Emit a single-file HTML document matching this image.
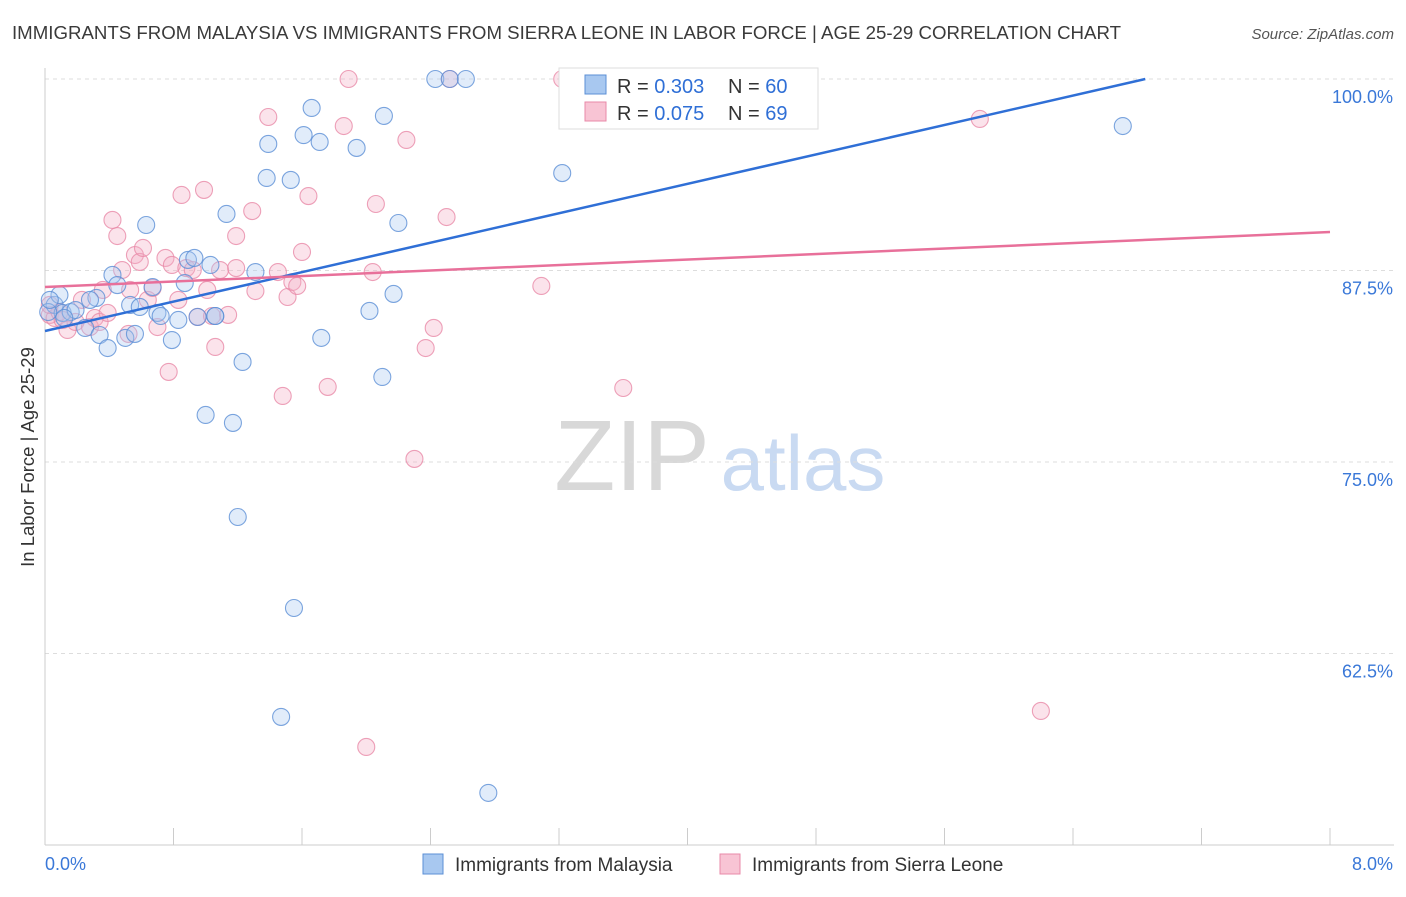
<!DOCTYPE html>
<html><head><meta charset="utf-8"><style>
body{margin:0;background:#fff;font-family:"Liberation Sans",sans-serif}
svg text{font-family:"Liberation Sans",sans-serif}
</style></head><body>
<svg id="chart" width="1406" height="892" xmlns="http://www.w3.org/2000/svg">
<text x="12" y="39" font-size="18" fill="#3a3a3a" textLength="1109" lengthAdjust="spacingAndGlyphs">IMMIGRANTS FROM MALAYSIA VS IMMIGRANTS FROM SIERRA LEONE IN LABOR FORCE | AGE 25-29 CORRELATION CHART</text>
<text x="1394" y="39" font-size="15" fill="#555" font-style="italic" text-anchor="end">Source: ZipAtlas.com</text>
<text x="34" y="457" font-size="18.5" fill="#333" transform="rotate(-90 34 457)" text-anchor="middle">In Labor Force | Age 25-29</text>
<g><text x="632" y="490" font-size="100" fill="#d8d8d8" font-family="Liberation Serif" text-anchor="middle">ZIP</text><text x="803" y="490" font-size="78" fill="#c9daf2" text-anchor="middle">atlas</text></g>
<g id="grid"></g><g id="axes"></g><g id="pts"></g><g id="lines"></g>
<g>
<rect x="559" y="68" width="259" height="61" fill="#fff" stroke="#ddd"/>
<rect x="585" y="75" width="21" height="19" fill="#a8c8f0" stroke="#5b8fd6"/>
<rect x="585" y="102" width="21" height="19" fill="#f8c4d4" stroke="#e88aa8"/>
<text x="617" y="93" font-size="20" fill="#333">R = <tspan fill="#2f6fd6">0.303</tspan><tspan x="728">N = </tspan><tspan fill="#2f6fd6">60</tspan></text>
<text x="617" y="120" font-size="20" fill="#333">R = <tspan fill="#2f6fd6">0.075</tspan><tspan x="728">N = </tspan><tspan fill="#2f6fd6"> 69</tspan></text>
</g>
<g>
<rect x="423" y="854" width="20" height="20" fill="#a8c8f0" stroke="#5b8fd6"/>
<text x="455" y="871" font-size="19" fill="#333">Immigrants from Malaysia</text>
<rect x="720" y="854" width="20" height="20" fill="#f8c4d4" stroke="#e88aa8"/>
<text x="752" y="871" font-size="19" fill="#333">Immigrants from Sierra Leone</text>
</g>
</svg>
<script>
const yTicks=[100,87.5,75,62.5];
const yTickLabels=["100.0%","87.5%","75.0%","62.5%"];
const xTickCount=10;
const blueX=[0.06,0.09,0.11,0.16,0.19,0.25,0.32,0.34,0.39,0.42,0.45,0.50,0.53,0.56,0.59,0.63,0.67,0.70,0.72,0.79,0.83,0.87,0.89,0.93,0.95,1.00,1.03,1.06,1.13,1.17,1.20,1.23,1.31,1.38,1.39,1.47,1.53,1.55,1.61,1.66,1.71,1.72,1.94,2.02,2.10,2.11,2.17,2.20,2.43,2.52,2.62,2.76,3.22,3.41,6.71,0.02,0.03,0.12,0.28,1.06];
const blueY=[85.25,85.9,84.73,84.79,84.92,83.75,85.71,83.29,82.44,87.21,86.55,83.1,85.25,83.36,85.12,90.47,86.42,84.73,84.53,82.96,84.27,86.68,88.19,88.32,84.47,78.07,87.86,84.53,91.19,77.55,71.41,81.53,87.4,93.54,95.76,58.36,93.41,65.47,96.34,98.11,95.89,83.1,95.5,84.86,80.55,97.59,85.97,90.6,100,100,100,53.4,93.86,100,96.93,84.79,85.58,84.4,85.58,84.53];
const pinkX=[0.03,0.06,0.09,0.14,0.19,0.23,0.28,0.31,0.34,0.36,0.39,0.42,0.45,0.48,0.52,0.53,0.56,0.59,0.61,0.64,0.67,0.70,0.75,0.77,0.79,0.83,0.85,0.88,0.92,0.95,0.99,1.01,1.04,1.06,1.09,1.14,1.19,1.19,1.29,1.31,1.39,1.45,1.48,1.51,1.54,1.57,1.60,1.64,1.76,1.86,1.89,2.00,2.04,2.06,2.25,2.30,2.37,2.42,2.50,2.52,3.09,3.22,3.60,3.80,4.31,5.82,6.20,0.03,0.11];
const pinkY=[84.6,84.4,84.79,83.62,84.14,85.58,83.81,84.4,84.14,86.23,84.73,90.8,89.75,87.53,83.36,86.23,88.51,88.06,88.97,85.58,86.36,83.81,88.32,80.88,87.86,85.58,92.43,87.66,87.53,84.47,92.76,86.23,84.53,82.51,87.53,84.6,89.75,87.66,91.38,86.16,97.52,87.4,79.31,85.77,86.75,86.49,88.71,92.36,79.9,96.93,100,56.4,87.4,91.84,96.02,75.2,82.44,83.75,90.99,100,86.49,100,79.83,100,100,97.39,58.75,85.25,84.27];
const blueLine=[[0,83.55],[6.85,100]];
const pinkLine=[[0,86.42],[8,90.01]];
const NS="http://www.w3.org/2000/svg";
const X0=45,X1=1330,XMAX=8,Y100=79,PXPER=191.5/12.5;
const sx=v=>X0+(v/XMAX)*(X1-X0);
const sy=v=>Y100+(100-v)*PXPER;
function mk(tag,attrs,parent){const e=document.createElementNS(NS,tag);for(const k in attrs)e.setAttribute(k,attrs[k]);document.getElementById(parent).appendChild(e);return e;}
yTicks.forEach((t,i)=>{
 const l=mk('line',{x1:X0,x2:1394,y1:sy(t),y2:sy(t),stroke:'#ddd','stroke-dasharray':'4 4'},'grid');
 
 
 const tx=mk('text',{x:1393,y:sy(t)+24,'font-size':18,fill:'#3a78d8','text-anchor':'end'},'grid');
 tx.textContent=yTickLabels[i];
 
 
});
const ax=mk('line',{x1:X0,x2:X0,y1:68,y2:845,stroke:'#ccc'},'axes');


const bx=mk('line',{x1:X0,x2:1394,y1:845,y2:845,stroke:'#ccc'},'axes');


for(let i=0;i<=xTickCount;i++){
 const v=i*XMAX/xTickCount;
 const t=mk('line',{x1:sx(v),x2:sx(v),y1:828,y2:845,stroke:'#ccc'},'axes');
 
 
}
const xl0=mk('text',{x:45,y:870,'font-size':18,fill:'#3a78d8'},'axes');xl0.textContent='0.0%';


const xl1=mk('text',{x:1393,y:870,'font-size':18,fill:'#3a78d8','text-anchor':'end'},'axes');xl1.textContent='8.0%';


function pts(xs,ys,fill,stroke,name){xs.forEach((x,i)=>{
 const c=mk('circle',{cx:sx(x),cy:sy(ys[i]),r:8.5,fill:fill,'fill-opacity':0.35,stroke:stroke,'stroke-opacity':0.8,'stroke-width':1.1},'pts');
 
 
});}
pts(pinkX,pinkY,'#f4b0c6','#e88aa8','point-sierra-leone');
pts(blueX,blueY,'#a8c8f0','#5b8fd6','point-malaysia');
const bl=mk('line',{x1:sx(blueLine[0][0]),y1:sy(blueLine[0][1]),x2:sx(blueLine[1][0]),y2:sy(blueLine[1][1]),stroke:'#2f6fd6','stroke-width':2.5},'lines');


const pl=mk('line',{x1:sx(pinkLine[0][0]),y1:sy(pinkLine[0][1]),x2:sx(pinkLine[1][0]),y2:sy(pinkLine[1][1]),stroke:'#e8709a','stroke-width':2.5},'lines');


</script>
</body></html>
